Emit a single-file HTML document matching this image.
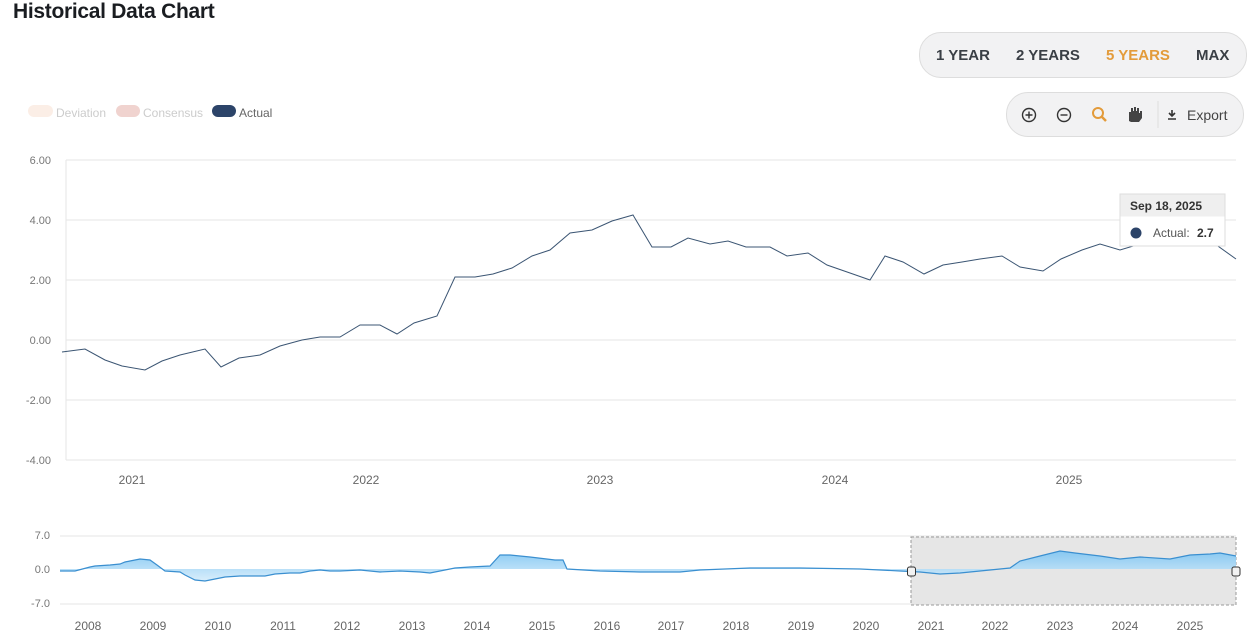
<!DOCTYPE html>
<html><head><meta charset="utf-8"><style>
body{margin:0;width:1256px;height:642px;background:#fff;font-family:"Liberation Sans",sans-serif;position:relative;overflow:hidden}
.t{position:absolute;left:13px;top:0;font-size:21px;font-weight:bold;color:#1a1d21;letter-spacing:-0.3px}
.rng{position:absolute;left:919px;top:32px;width:326px;height:44px;border:1px solid #ddd;border-radius:22px;background:#f2f2f3;font-size:15px;font-weight:bold;color:#3a3f45}
.rng span{position:absolute;top:14px}
.tools{position:absolute;left:1006px;top:92px;width:236px;height:43px;border:1px solid #ddd;border-radius:22px;background:#f2f2f3;font-size:14px;color:#444}
</style></head><body>
<div class="t">Historical Data Chart</div>
<div class="rng"><span style="left:16px">1 YEAR</span><span style="left:96px">2 YEARS</span><span style="left:186px;color:#e39b3a">5 YEARS</span><span style="left:276px">MAX</span></div>
<div class="tools">
<svg width="236" height="43" style="position:absolute;left:0;top:0">
<circle cx="22" cy="22" r="6.5" fill="none" stroke="#333" stroke-width="1.4"/><path d="M18.5 22h7M22 18.5v7" stroke="#333" stroke-width="1.4"/>
<circle cx="57" cy="22" r="6.5" fill="none" stroke="#333" stroke-width="1.4"/><path d="M53.5 22h7" stroke="#333" stroke-width="1.4"/>
<circle cx="91" cy="20" r="5" fill="none" stroke="#e39b3a" stroke-width="2"/><path d="M95 24l4 4" stroke="#e39b3a" stroke-width="2.5"/>
<path d="M122 28v-9h2v-4h2v3h1v-4h2v4h1v-3h2v5h1v-2h2v7l-3 4h-8z" fill="#444"/>
<line x1="151" y1="8" x2="151" y2="35" stroke="#ddd"/>
<path d="M165 17v6M162 20l3 3 3-3M161 26h8" stroke="#333" stroke-width="1.6" fill="none"/>
</svg><span style="position:absolute;left:180px;top:14px">Export</span></div>
<svg width="1256" height="642" style="position:absolute;left:0;top:0;font-family:'Liberation Sans',sans-serif">
<rect x="28" y="105" width="25" height="12" rx="6" fill="#fbeee6"/><text x="56" y="117" font-size="12" fill="#ccc">Deviation</text>
<rect x="116" y="105" width="24" height="12" rx="6" fill="#f0d3cf"/><text x="143" y="117" font-size="12" fill="#ccc">Consensus</text>
<rect x="212" y="105" width="24" height="12" rx="6" fill="#2c4469"/><text x="239" y="117" font-size="12" fill="#666">Actual</text>
<g stroke="#e6e6e6"><line x1="66" y1="160" x2="1236" y2="160"/><line x1="66" y1="220" x2="1236" y2="220"/><line x1="66" y1="280" x2="1236" y2="280"/><line x1="66" y1="340" x2="1236" y2="340"/><line x1="66" y1="400" x2="1236" y2="400"/><line x1="66" y1="460" x2="1236" y2="460"/><line x1="66" y1="160" x2="66" y2="460"/></g>
<g font-size="11" fill="#777" text-anchor="end"><text x="51" y="164">6.00</text><text x="51" y="224">4.00</text><text x="51" y="284">2.00</text><text x="51" y="344">0.00</text><text x="51" y="404">-2.00</text><text x="51" y="464">-4.00</text></g>
<g font-size="12" fill="#666" text-anchor="middle"><text x="132" y="484">2021</text><text x="366" y="484">2022</text><text x="600" y="484">2023</text><text x="835" y="484">2024</text><text x="1069" y="484">2025</text></g>
<polyline fill="none" stroke="#3b5573" stroke-width="1" points="62,352 85,349 105,360 122,366 145,370 162,361 180,355 205,349 221,367 239,358 260,355 280,346 302,340 320,337 340,337 360,325 380,325 397,334 414,323 437,316 455,277 475,277 493,274 512,268 532,256 550,250 570,233 592,230 612,221 633,215 652,247 671,247 688,238 710,244 728,241 746,247 770,247 787,256 808,253 827,265 850,273 870,280 885,256 903,262 924,274 943,265 962,262 980,259 1002,256 1020,267 1043,271 1061,259 1082,250 1100,244 1120,250 1140,244 1180,238 1215,244 1236,259"/>
<rect x="1120" y="194" width="105" height="52" fill="#fff" stroke="#ddd"/><rect x="1120.5" y="194.5" width="104" height="22" fill="#efefef"/>
<text x="1130" y="210" font-size="12" font-weight="bold" fill="#333">Sep 18, 2025</text>
<circle cx="1136" cy="233" r="5.5" fill="#2c4469"/><text x="1153" y="237" font-size="12" fill="#555">Actual:</text><text x="1197" y="237" font-size="12" font-weight="bold" fill="#333">2.7</text>
<g stroke="#e6e6e6"><line x1="60" y1="536" x2="1236" y2="536"/><line x1="60" y1="604" x2="1236" y2="604"/></g>
<g font-size="11" fill="#777" text-anchor="end"><text x="50" y="539">7.0</text><text x="50" y="573">0.0</text><text x="50" y="607">-7.0</text></g>
<defs><linearGradient id="g" x1="0" y1="0" x2="0" y2="1"><stop offset="0" stop-color="#7cc4f2"/><stop offset="1" stop-color="#d5ecfb"/></linearGradient></defs>
<rect x="911" y="537" width="325" height="68" fill="#e6e6e6" stroke="#999" stroke-dasharray="3,2"/>
<polygon fill="url(#g)" opacity=".9" points="60,569 60,571 75,571 90,567 95,566 110,565 120,564 125,562 130,561 140,559 150,560 157,565 165,571 180,572 185,575 195,580 205,581 215,579 225,577 240,576 255,576 265,576 275,574 290,573 300,573 310,571 320,570 330,571 340,571 360,570 380,572 400,571 420,572 430,573 440,571 455,568 470,567 490,566 500,555 510,555 530,557 555,560 563,560 567,569 600,571 640,572 680,572 700,570 750,568 800,568 860,569 880,570 900,571 920,572 940,574 960,573 990,570 1010,568 1020,561 1040,556 1060,551 1075,553 1100,556 1120,559 1140,557 1170,559 1190,555 1210,554 1220,553 1236,556 1236,569"/>
<polyline fill="none" stroke="#3a8fd0" stroke-width="1.2" points="60,571 75,571 90,567 95,566 110,565 120,564 125,562 130,561 140,559 150,560 157,565 165,571 180,572 185,575 195,580 205,581 215,579 225,577 240,576 255,576 265,576 275,574 290,573 300,573 310,571 320,570 330,571 340,571 360,570 380,572 400,571 420,572 430,573 440,571 455,568 470,567 490,566 500,555 510,555 530,557 555,560 563,560 567,569 600,571 640,572 680,572 700,570 750,568 800,568 860,569 880,570 900,571 920,572 940,574 960,573 990,570 1010,568 1020,561 1040,556 1060,551 1075,553 1100,556 1120,559 1140,557 1170,559 1190,555 1210,554 1220,553 1236,556"/>
<rect x="907.5" y="567" width="8" height="9" rx="2" fill="#f2f2f2" stroke="#333"/><rect x="1232" y="567" width="8" height="9" rx="2" fill="#f2f2f2" stroke="#333"/>
<g font-size="12" fill="#666" text-anchor="middle"><text x="88" y="630">2008</text><text x="153" y="630">2009</text><text x="218" y="630">2010</text><text x="283" y="630">2011</text><text x="347" y="630">2012</text><text x="412" y="630">2013</text><text x="477" y="630">2014</text><text x="542" y="630">2015</text><text x="607" y="630">2016</text><text x="671" y="630">2017</text><text x="736" y="630">2018</text><text x="801" y="630">2019</text><text x="866" y="630">2020</text><text x="931" y="630">2021</text><text x="995" y="630">2022</text><text x="1060" y="630">2023</text><text x="1125" y="630">2024</text><text x="1190" y="630">2025</text></g>
</svg>
</body></html>
